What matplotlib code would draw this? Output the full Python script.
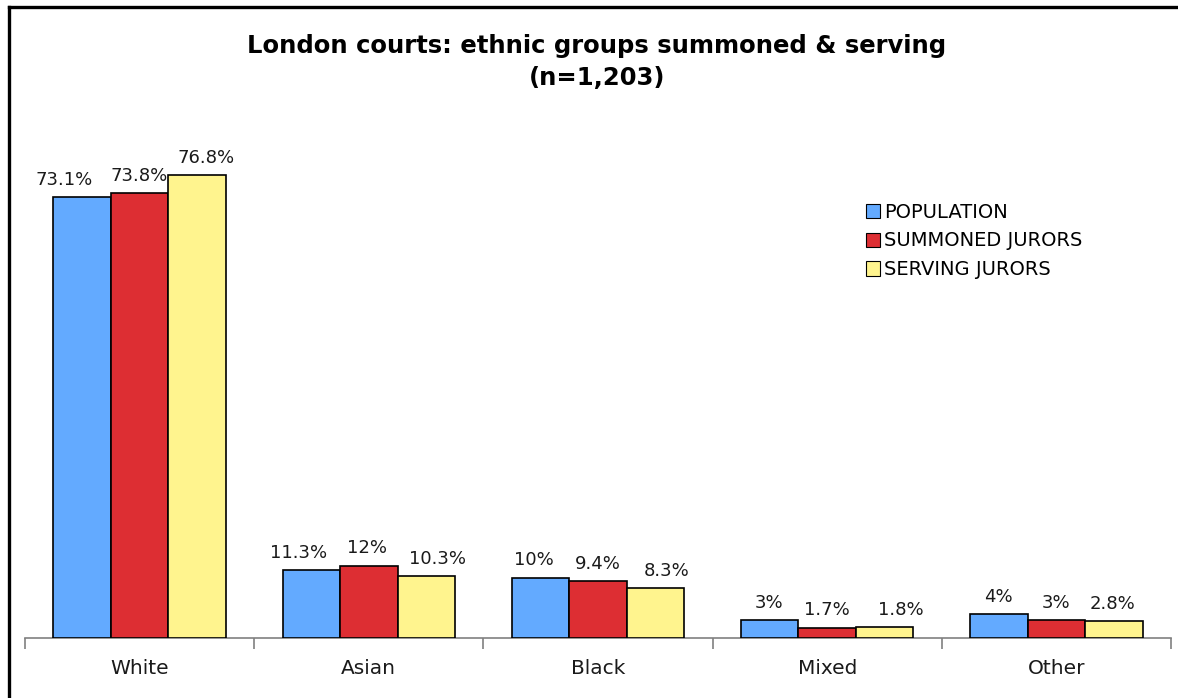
import matplotlib.pyplot as plt
from matplotlib.lines import Line2D
import numpy as np

groups = ['White', 'Asian', 'Black', 'Mixed', 'Other']
series_names = ['POPULATION', 'SUMMONED JURORS', 'SERVING JURORS']
population = [73.1, 11.3, 10, 3, 4]
summoned = [73.8, 12, 9.4, 1.7, 3]
serving = [76.8, 10.3, 8.3, 1.8, 2.8]
bar_labels = [
    ['73.1%', '11.3%', '10%', '3%', '4%'],
    ['73.8%', '12%', '9.4%', '1.7%', '3%'],
    ['76.8%', '10.3%', '8.3%', '1.8%', '2.8%'],
]
# horizontal nudges (pixels) so neighbouring labels don't collide
label_shift = [
    [-18, -13, -7, -1, 0],
    [0, -2, 0, 0, 0],
    [9, 11, 11, 16, -1],
]
colors = ['#63AAFF', '#DD2E33', '#FFF48E']

fig = plt.figure(figsize=(11.78, 6.98), dpi=100)
ax = fig.add_axes([25 / 1178, 60 / 698, 1146 / 1178, 488 / 698])

x = np.arange(len(groups))
w = 0.251
for i, (vals, col) in enumerate(zip([population, summoned, serving], colors)):
    pos = x + (i - 1) * w
    bars = ax.bar(pos, vals, width=w, color=col, edgecolor='black',
                  linewidth=1.2, label=series_names[i], zorder=3)
    for b, txt, dx in zip(bars, bar_labels[i], label_shift[i]):
        ax.annotate(txt, (b.get_x() + b.get_width() / 2, b.get_height()),
                    xytext=(dx * 0.72, 6), textcoords='offset points',
                    ha='center', va='bottom', fontsize=13, color='#1a1a1a')

ax.set_xlim(-0.5, len(groups) - 0.5)
ax.set_ylim(0, 488 / 6.03)
ax.set_yticks([])
for s in ['left', 'right', 'top']:
    ax.spines[s].set_visible(False)
ax.spines['bottom'].set_color('#808080')
ax.spines['bottom'].set_linewidth(1.2)

ax.set_xticks(x)
ax.set_xticklabels(groups, fontsize=14.5, color='#1a1a1a')
ax.tick_params(axis='x', which='major', length=0, pad=15)
ax.set_xticks(np.arange(-0.5, len(groups)), minor=True)
ax.tick_params(axis='x', which='minor', length=8, width=1.2, color='#808080')

leg = ax.legend(loc='upper left', bbox_to_anchor=(831 / 1146, (638 - 193) / 488),
                frameon=False, fontsize=14, handlelength=0.75, handleheight=0.75,
                handletextpad=0.2, labelspacing=0.5, borderpad=0)
for h in leg.legend_handles:
    h.set_linewidth(0.8)

fig.text(597 / 1178, 1 - 46 / 698, 'London courts: ethnic groups summoned & serving',
         ha='center', va='center', fontsize=17.5, fontweight='bold')
fig.text(597 / 1178, 1 - 78 / 698, '(n=1,203)',
         ha='center', va='center', fontsize=17.5, fontweight='bold')

# outer frame, left and top edges only
fig.add_artist(Line2D([9 / 1178, 9 / 1178], [0, 1 - 6.5 / 698], color='black', lw=2.4,
                      transform=fig.transFigure))
fig.add_artist(Line2D([9 / 1178, 1], [1 - 6.5 / 698, 1 - 6.5 / 698], color='black', lw=2.4,
                      transform=fig.transFigure))

fig.savefig('out.png', dpi=100)
